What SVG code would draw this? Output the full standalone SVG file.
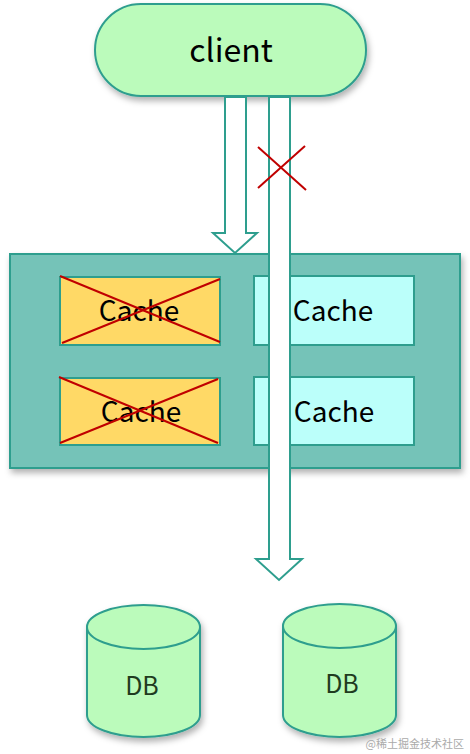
<svg xmlns="http://www.w3.org/2000/svg" width="470" height="754" viewBox="0 0 470 754">
<defs>
<filter id="sh" x="-20%" y="-20%" width="140%" height="150%">
<feDropShadow dx="2" dy="4" stdDeviation="3" flood-color="#000" flood-opacity="0.3"/>
</filter>
<style>
.t{stroke:#2e9e8e;stroke-width:2}
.txt{font-family:"Noto Sans CJK SC","Noto Sans",sans-serif;fill:#000;text-anchor:middle}
.x{stroke:#c00000;stroke-width:2;fill:none}
.arr{fill:#fff;stroke:#2e9e8e;stroke-width:2;stroke-linejoin:miter}
.db{fill:#1f3b1f}
</style>
</defs>
<rect width="470" height="754" fill="#fff"/>

<g id="container">
<rect x="10" y="254" width="450" height="214" fill="#74c3b8" class="t" filter="url(#sh)"/>
</g>
<g id="cache1">
<rect x="60" y="277" width="160" height="68" fill="#ffd966" class="t"/>
<text x="139" y="321" class="txt" font-size="28">Cache</text>
<line x1="60" y1="276" x2="220" y2="342" class="x"/>
<line x1="62" y1="343" x2="220" y2="279" class="x"/>
</g>
<g id="cache2">
<rect x="60" y="378" width="160" height="67" fill="#ffd966" class="t"/>
<text x="141" y="422" class="txt" font-size="28">Cache</text>
<line x1="59" y1="377" x2="218" y2="443" class="x"/>
<line x1="60" y1="443" x2="218" y2="379" class="x"/>
</g>
<g id="cache3">
<rect x="254" y="276" width="160" height="69" fill="#bbfffa" class="t"/>
<text x="333" y="321" class="txt" font-size="28">Cache</text>
</g>
<g id="cache4">
<rect x="254" y="377" width="160" height="68" fill="#bbfffa" class="t"/>
<text x="334" y="422" class="txt" font-size="28">Cache</text>
</g>

<g id="client">
<rect x="95" y="4" width="271" height="92" rx="46" ry="46" fill="#bbfbbb" class="t" filter="url(#sh)"/>
<text x="231" y="62" class="txt" font-size="32">client</text>
</g>

<g id="connectors">
<path class="arr" d="M225,97 L225,233 L213,233 L235,253 L257,233 L246,233 L246,97 Z"/>
<path class="arr" d="M269,97 L269,559 L256,559 L279,580 L302,559 L290,559 L290,97 Z"/>
<line x1="258" y1="147" x2="306" y2="190" class="x"/>
<line x1="258" y1="188" x2="305" y2="146" class="x"/>
</g>

<g id="db1">
<g filter="url(#sh)">
<path d="M87,627 L87,715 A56.5,22 0 0 0 200,715 L200,627 Z" fill="#bbfbbb" class="t"/>
<ellipse cx="143.5" cy="627" rx="56.5" ry="22" fill="#bbfbbb" class="t"/>
</g>
<text x="142" y="695" class="txt db" font-size="25">DB</text>
</g>
<g id="db2">
<g filter="url(#sh)">
<path d="M283,626 L283,715 A56.5,22 0 0 0 396,715 L396,626 Z" fill="#bbfbbb" class="t"/>
<ellipse cx="339.5" cy="626" rx="56.5" ry="22" fill="#bbfbbb" class="t"/>
</g>
<text x="342" y="693" class="txt db" font-size="25">DB</text>
</g>

<text x="464" y="748" font-family="'Noto Sans CJK SC',sans-serif" font-size="11" fill="#aaa" text-anchor="end">@稀土掘金技术社区</text>
</svg>
